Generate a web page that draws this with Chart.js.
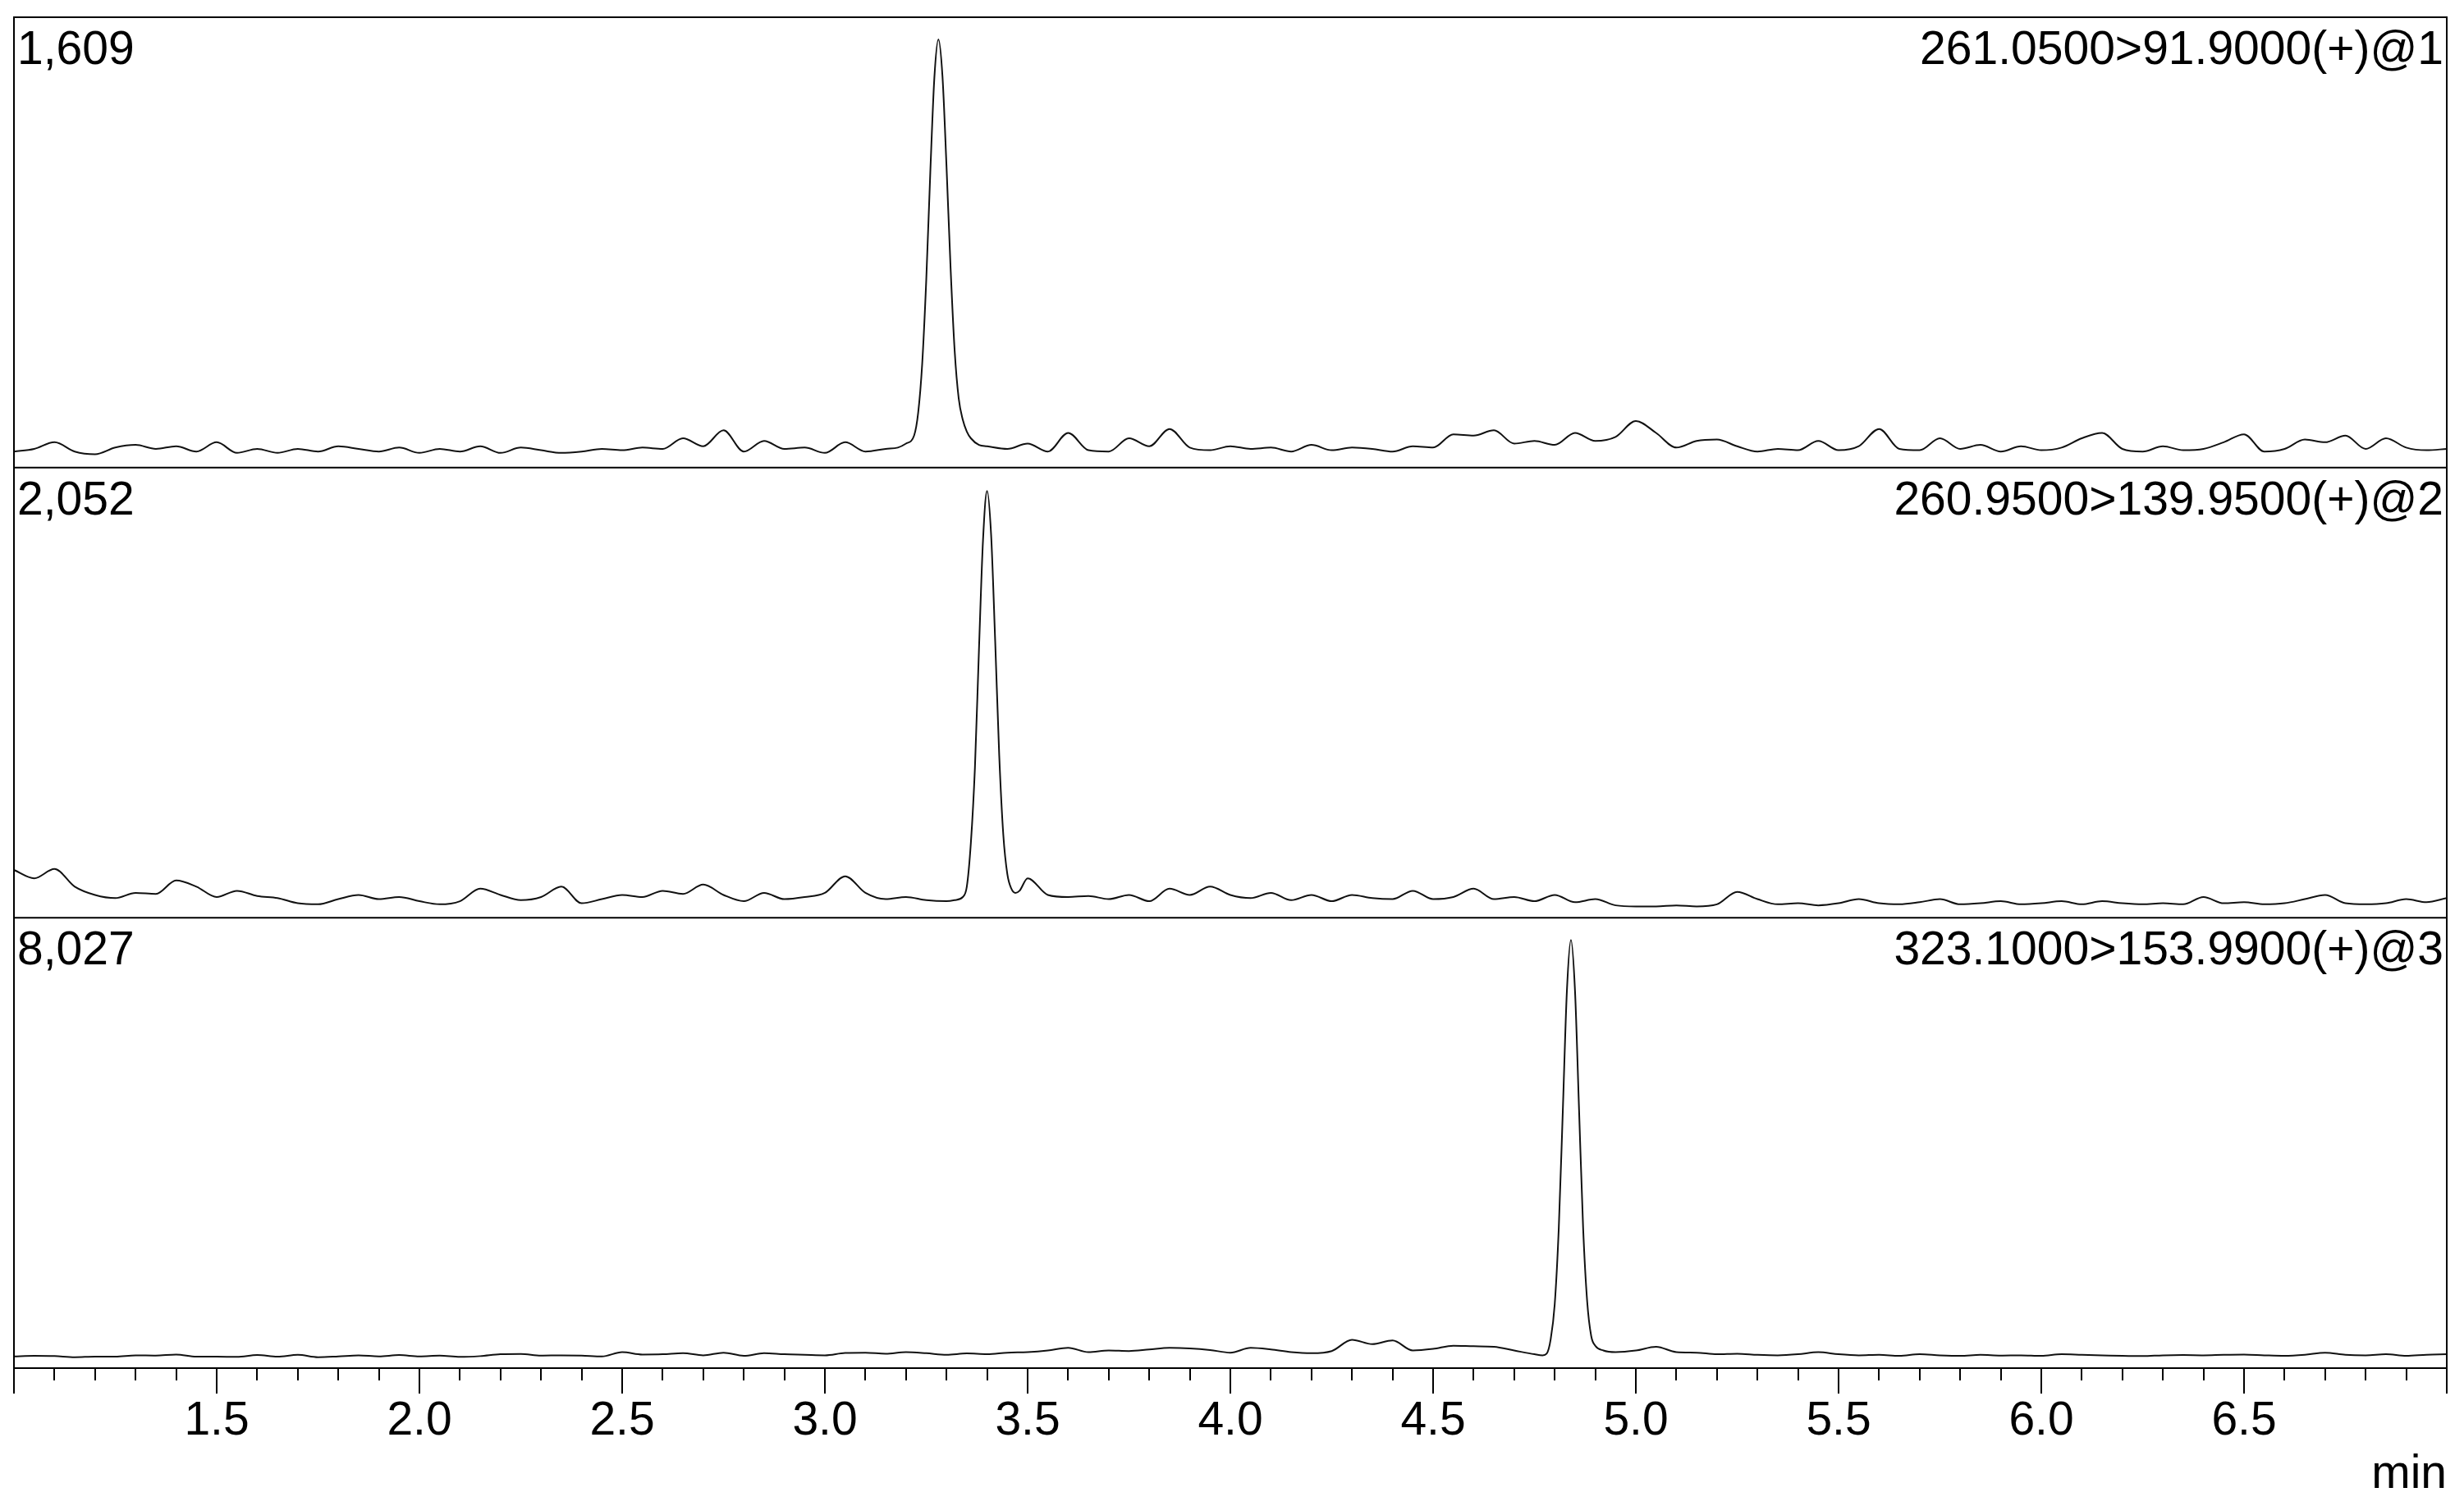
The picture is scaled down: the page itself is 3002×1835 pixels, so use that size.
<!DOCTYPE html>
<html>
<head>
<meta charset="utf-8">
<script src="https://cdn.jsdelivr.net/npm/chart.js@4.4.0/dist/chart.umd.min.js"></script>
<style>
  html, body { margin: 0; padding: 0; background: #fff; }
</style>
</head>
<body>
<canvas id="myChart" width="3002" height="1835"></canvas>
<script>
// retention time grid (min) for the baseline readings
const times = [
  1.00, 1.05, 1.10, 1.15, 1.20, 1.25, 1.30, 1.35, 1.40, 1.45, 1.50, 1.55, 1.60, 1.65, 1.70, 1.75, 1.80, 1.85, 1.90, 1.95,
  2.00, 2.05, 2.10, 2.15, 2.20, 2.25, 2.30, 2.35, 2.40, 2.45, 2.50, 2.55, 2.60, 2.65, 2.70, 2.75, 2.80, 2.85, 2.90, 2.95,
  3.00, 3.05, 3.10, 3.15, 3.20, 3.25, 3.30, 3.35, 3.40, 3.45, 3.50, 3.55, 3.60, 3.65, 3.70, 3.75, 3.80, 3.85, 3.90, 3.95,
  4.00, 4.05, 4.10, 4.15, 4.20, 4.25, 4.30, 4.35, 4.40, 4.45, 4.50, 4.55, 4.60, 4.65, 4.70, 4.75, 4.80, 4.85, 4.90, 4.95,
  5.00, 5.05, 5.10, 5.15, 5.20, 5.25, 5.30, 5.35, 5.40, 5.45, 5.50, 5.55, 5.60, 5.65, 5.70, 5.75, 5.80, 5.85, 5.90, 5.95,
  6.00, 6.05, 6.10, 6.15, 6.20, 6.25, 6.30, 6.35, 6.40, 6.45, 6.50, 6.55, 6.60, 6.65, 6.70, 6.75, 6.80, 6.85, 6.90, 6.95,
  7.00
];

// baseline intensities for each trace
const base1 = [
  60, 70, 95, 60, 50, 75, 85, 70, 80, 60, 95, 55, 70, 55, 70, 60, 80, 70, 60, 75,
  55, 70, 60, 80, 55, 75, 65, 55, 60, 70, 65, 75, 70, 110, 80, 140, 60, 100, 70, 75,
  55, 95, 60, 70, 90, 90, 90, 90, 85, 70, 90, 60, 130, 65, 60, 110, 80, 145, 75, 65,
  80, 70, 75, 60, 85, 65, 75, 70, 60, 80, 75, 125, 120, 140, 90, 100, 85, 130, 100, 115,
  175, 130, 75, 100, 105, 80, 60, 70, 65, 100, 65, 80, 145, 70, 65, 110, 70, 85, 60, 80,
  65, 75, 110, 130, 70, 60, 80, 65, 70, 95, 125, 60, 70, 105, 95, 120, 70, 110, 75, 65,
  70
];
const base2 = [
  230, 190, 235, 150, 110, 95, 120, 115, 180, 150, 100, 130, 105, 95, 70, 65, 90, 110, 90, 100,
  80, 65, 80, 140, 110, 85, 100, 150, 70, 90, 110, 100, 130, 115, 160, 110, 80, 120, 90, 100,
  120, 200, 120, 90, 100, 85, 80, 95, 95, 95, 190, 110, 100, 105, 90, 110, 80, 140, 110, 150,
  110, 95, 120, 85, 110, 80, 110, 95, 90, 130, 90, 100, 140, 90, 100, 80, 110, 75, 90, 60,
  55, 55, 60, 55, 65, 125, 90, 65, 70, 60, 70, 90, 70, 65, 75, 90, 65, 70, 80, 65,
  70, 80, 65, 80, 70, 65, 70, 65, 100, 70, 75, 65, 70, 90, 110, 70, 65, 70, 90, 75,
  95
];
const base3 = [
  220, 230, 225, 205, 215, 215, 240, 235, 255, 215, 215, 210, 245, 215, 250, 205, 220, 240, 220, 245,
  220, 235, 210, 225, 260, 265, 235, 240, 235, 220, 300, 255, 260, 280, 240, 290, 230, 280, 260, 250,
  240, 285, 290, 270, 300, 280, 250, 275, 260, 290, 300, 330, 380, 300, 330, 320, 350, 380, 370, 340,
  290, 380, 350, 300, 280, 320, 530, 450, 520, 330, 360, 420, 410, 400, 330, 260, 260, 260, 260, 300,
  330, 400, 300, 290, 260, 270, 250, 240, 260, 300, 260, 240, 250, 230, 260, 240, 230, 250, 235, 240,
  230, 260, 250, 240, 230, 225, 240, 245, 240, 250, 255, 240, 230, 250, 290, 250, 240, 260, 230, 250,
  260
];

// peak regions, read at finer spacing
const peakTimes1 = [3.18, 3.20, 3.22, 3.23, 3.24, 3.25, 3.26, 3.27, 3.28, 3.29, 3.30, 3.31, 3.32, 3.33, 3.34, 3.35, 3.36, 3.38, 3.40];
const peakValues1 = [75, 90, 120, 205, 390, 705, 1110, 1465, 1609, 1470, 1130, 750, 440, 260, 180, 135, 110, 85, 80];
const peakTimes2 = [3.32, 3.34, 3.35, 3.36, 3.37, 3.38, 3.39, 3.40, 3.41, 3.42, 3.43, 3.44, 3.45, 3.46, 3.47, 3.48];
const peakValues2 = [85, 100, 150, 360, 720, 1290, 1817, 2052, 1840, 1330, 780, 400, 210, 140, 120, 130];
const peakTimes3 = [4.77, 4.78, 4.79, 4.80, 4.81, 4.82, 4.83, 4.84, 4.85, 4.86, 4.87, 4.88, 4.89, 4.90, 4.92];
const peakValues3 = [240, 270, 540, 1200, 2630, 4840, 7070, 8027, 7070, 4840, 2630, 1250, 600, 420, 330];

// panel texts and y ranges
const maxLabels = ['1,609', '2,052', '8,027'];
const channels = ['261.0500>91.9000(+)@1', '260.9500>139.9500(+)@2', '323.1000>153.9900(+)@3'];
const yMax = [1692, 2165, 8440];

const FONT = "'Liberation Sans', Arial, sans-serif";

// baseline points outside the peak window + the peak points
function buildSeries(baseVals, peakT, peakV) {
  var lo = peakT[0], hi = peakT[peakT.length - 1];
  var pts = [];
  times.forEach((t, i) => {
    if (t < lo || t > hi) pts.push({ x: t, y: baseVals[i] });
  });
  peakT.forEach((t, i) => pts.push({ x: t, y: peakV[i] }));
  pts.sort((a, b) => a.x - b.x);
  return pts;
}

function isMajor(v) {
  return Math.abs(v * 2 - Math.round(v * 2)) < 1e-6;
}

const lineStyle = {
  borderColor: '#111',
  borderWidth: 2,
  pointRadius: 0,
  fill: false,
  cubicInterpolationMode: 'monotone'
};

// frame, dividers, panel texts and minor/major ticks
const framePlugin = {
  id: 'frame',
  afterDraw(chart) {
    var ctx = chart.ctx;
    var a = chart.chartArea;
    ctx.save();
    ctx.strokeStyle = '#000';
    ctx.lineWidth = 2;
    ctx.strokeRect(a.left, a.top, a.right - a.left, a.bottom - a.top);
    ctx.font = '57px ' + FONT;
    ctx.fillStyle = '#000';
    ctx.textBaseline = 'alphabetic';
    ['y1', 'y2', 'y3'].forEach((id, i) => {
      var s = chart.scales[id];
      ctx.beginPath();
      ctx.moveTo(a.left, s.bottom);
      ctx.lineTo(a.right, s.bottom);
      ctx.stroke();
      ctx.textAlign = 'left';
      ctx.fillText(maxLabels[i], a.left + 4, s.top + 57);
      ctx.textAlign = 'right';
      ctx.fillText(channels[i], a.right - 4, s.top + 57);
    });
    var xs = chart.scales.x;
    ctx.lineWidth = 2;
    xs.ticks.forEach((tk) => {
      var px = Math.round(xs.getPixelForValue(tk.value));
      var len = isMajor(tk.value) ? 31 : 15;
      ctx.beginPath();
      ctx.moveTo(px, xs.top);
      ctx.lineTo(px, xs.top + len);
      ctx.stroke();
    });
    ctx.restore();
  }
};

function hiddenY(max) {
  return {
    type: 'linear',
    stack: 'traces',
    stackWeight: 1,
    position: 'left',
    min: 0,
    max: max,
    ticks: { display: false },
    grid: { display: false, drawTicks: false },
    border: { display: false }
  };
}

var chart = new Chart(document.getElementById('myChart'), {
  type: 'line',
  data: {
    datasets: [
      Object.assign({ label: channels[0], data: buildSeries(base1, peakTimes1, peakValues1), yAxisID: 'y1' }, lineStyle),
      Object.assign({ label: channels[1], data: buildSeries(base2, peakTimes2, peakValues2), yAxisID: 'y2' }, lineStyle),
      Object.assign({ label: channels[2], data: buildSeries(base3, peakTimes3, peakValues3), yAxisID: 'y3' }, lineStyle)
    ]
  },
  options: {
    responsive: false,
    animation: false,
    layout: { padding: { left: 17, right: 21, top: 21, bottom: 0 } },
    plugins: { legend: { display: false }, tooltip: { enabled: false } },
    scales: {
      x: {
        type: 'linear',
        min: 1,
        max: 7,
        border: { display: false },
        grid: { display: true, drawOnChartArea: false, drawTicks: true, tickLength: 31, tickColor: 'rgba(0,0,0,0)' },
        ticks: {
          stepSize: 0.1,
          autoSkip: false,
          maxRotation: 0,
          padding: 0,
          color: '#000',
          font: { family: FONT, size: 57 },
          callback: (v) => (isMajor(v) && v > 1.01 && v < 6.99) ? v.toFixed(1) : ''
        },
        title: {
          display: true,
          text: 'min',
          align: 'end',
          color: '#000',
          font: { family: FONT, size: 57 },
          padding: { top: 0, bottom: 4 }
        },
        afterFit: (s) => { s.height = 168; }
      },
      y3: hiddenY(yMax[2]),
      y2: hiddenY(yMax[1]),
      y1: hiddenY(yMax[0])
    }
  },
  plugins: [framePlugin]
});
</script>
</body>
</html>
